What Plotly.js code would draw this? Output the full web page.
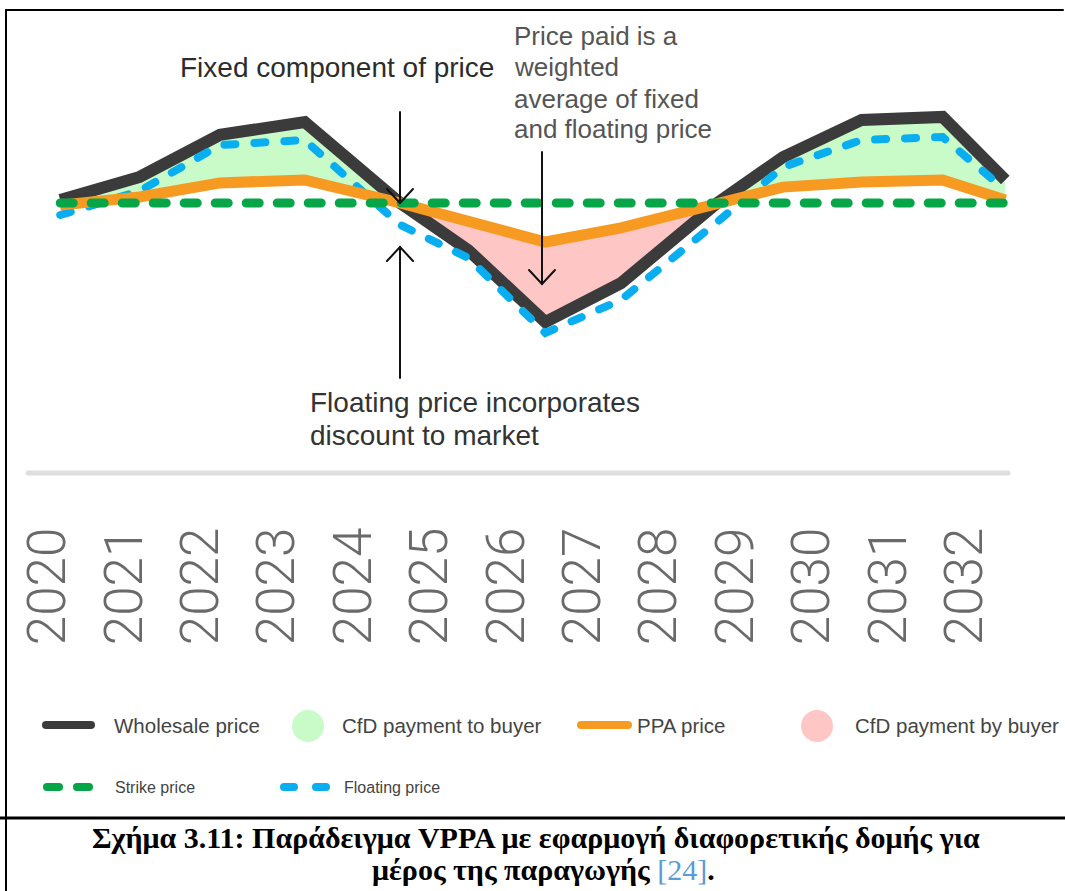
<!DOCTYPE html>
<html>
<head>
<meta charset="utf-8">
<script src="https://cdn.plot.ly/plotly-3.0.1.min.js"></script>
<style>
  html, body { margin: 0; padding: 0; background: #ffffff; }
  #chart { width: 1065px; height: 891px; }
  .tracestrike .js-line, .tracefloating .js-line { stroke-linecap: round !important; }
  .shapelayer path { stroke-linecap: round; }
</style>
</head>
<body>
<div id="chart"></div>
<script>
// ---------------- data ----------------
const yearLabels = ['2020','2021','2022','2023','2024','2025','2026','2027','2028','2029','2030','2031','2032'];
const yearTicks  = [2020, 2021, 2022, 2023, 2024, 2025, 2026, 2027, 2028, 2029, 2030, 2031, 2032];
const xPoints    = [2020.16, 2021.20, 2022.25, 2023.36, 2024.61, 2025.50, 2026.51, 2027.50, 2028.76, 2029.62, 2030.65, 2031.71, 2032.53];
const wholesalePrice = [51, 58.7, 72.7, 77, 50, 34.3, 10.3, 23.3, 50, 65.3, 77.7, 78.7, 57.7];
const floatingPrice  = [46, 54, 69.3, 71, 42.7, 31.7, 6.7, 17.7, 43.7, 62, 71, 72, 54.3];
const ppaPrice       = [49.3, 52, 56.7, 57.7, 50, 44.3, 37, 41.7, 50, 55.3, 57, 57.7, 51];
const strikePrice    = [50, 50, 50, 50, 50, 50, 50, 50, 50, 50, 50, 50, 50];

const legendLabels = ['Wholesale price', 'CfD payment to buyer', 'PPA price', 'CfD payment by buyer', 'Strike price', 'Floating price'];

// ---------------- styling ----------------
const C_BLACK = '#3b3b3b', C_ORANGE = '#f69a22', C_GREEN = '#05a548', C_BLUE = '#08aeef';
const C_GFILL = '#c8fbc8', C_PFILL = '#ffc6c6';

const W = 1065, H = 891, TOP = 53, BOTTOM = 516;
const PX = px => px / W;                         // page px -> paper x
const PY = py => (BOTTOM - py) / (BOTTOM - TOP); // page px -> paper y
const xr = [2020 - 48/76.4, 2020 + (W - 48)/76.4];
const yr = [100 - (BOTTOM - TOP)/3, 100];

// ---------------- fill polygons between wholesale and PPA ----------------
const traces = [];
(function buildFills(){
  let groups = [];
  let cur = null;
  for (let i = 0; i < xPoints.length - 1; i++) {
    const dm = (wholesalePrice[i] + wholesalePrice[i+1]) - (ppaPrice[i] + ppaPrice[i+1]);
    const sgn = dm >= 0 ? 1 : -1;
    if (!cur || cur.sgn !== sgn) { cur = {sgn, idx:[i]}; groups.push(cur); }
    cur.idx.push(i+1);
  }
  groups.forEach(g => {
    const xs = g.idx.map(i => xPoints[i]);
    const top = g.idx.map(i => wholesalePrice[i]);
    const bot = g.idx.map(i => ppaPrice[i]).reverse();
    traces.push({
      x: xs.concat(xs.slice().reverse()), y: top.concat(bot),
      mode: 'lines', fill: 'toself', line: {width: 0},
      fillcolor: g.sgn > 0 ? C_GFILL : C_PFILL, hoverinfo: 'skip'
    });
  });
})();

traces.push({ uid: 'wholesale', x: xPoints, y: wholesalePrice, mode: 'lines',
  line: {color: C_BLACK, width: 12}, name: legendLabels[0] });
traces.push({ uid: 'floating', x: xPoints, y: floatingPrice, mode: 'lines',
  line: {color: C_BLUE, width: 8, dash: '11px,19px'}, name: legendLabels[5] });
traces.push({ uid: 'ppa', x: xPoints, y: ppaPrice, mode: 'lines',
  line: {color: C_ORANGE, width: 11}, name: legendLabels[2] });
traces.push({ uid: 'strike', x: xPoints, y: strikePrice, mode: 'lines',
  line: {color: C_GREEN, width: 9, dash: '13px,18px'}, name: legendLabels[4] });

// ---------------- decorations ----------------
const shapes = [];
function seg(x0, y0, x1, y1, color, width) {
  shapes.push({type:'line', xref:'paper', yref:'paper', x0:PX(x0), y0:PY(y0), x1:PX(x1), y1:PY(y1),
    line:{color, width}});
}
function chevron(tx, ty, dir) { // dir = +1 pointing down, -1 pointing up
  const p = `M${PX(tx-13)},${PY(ty-14*dir)} L${PX(tx)},${PY(ty)} L${PX(tx+13)},${PY(ty-14*dir)}`;
  shapes.push({type:'path', xref:'paper', yref:'paper', path:p, line:{color:'#111', width:2}});
}
// frame
seg(6, 10, 6, 891, '#000', 2);
seg(6, 10, 1063, 10, '#000', 2);
seg(0, 818, 1065, 818, '#000', 3);
// grey base line
seg(28, 473, 1008, 473, '#dedede', 5);
// arrows
seg(400, 112, 400, 203, '#111', 2); chevron(400, 203, 1);
seg(400, 378, 400, 247, '#111', 2); chevron(400, 247, -1);
seg(542, 152, 542, 284, '#111', 2); chevron(542, 284, 1);
// legend swatches
seg(46, 725, 91, 725, C_BLACK, 8);
shapes.push({type:'circle', xref:'paper', yref:'paper', x0:PX(292), x1:PX(324), y0:PY(742), y1:PY(710), fillcolor:C_GFILL, line:{width:0}});
seg(581, 725, 628, 725, C_ORANGE, 8);
shapes.push({type:'circle', xref:'paper', yref:'paper', x0:PX(801), x1:PX(833), y0:PY(742), y1:PY(710), fillcolor:C_PFILL, line:{width:0}});
seg(47, 787, 59, 787, C_GREEN, 8); seg(77, 787, 89, 787, C_GREEN, 8);
seg(284, 787, 294, 787, C_BLUE, 8); seg(316, 787, 326, 787, C_BLUE, 8);

const annotations = [];
function txt(text, x, y, size, color, family, extra) {
  annotations.push(Object.assign({xref:'paper', yref:'paper', x:PX(x), y:PY(y), text, showarrow:false,
    xanchor:'left', yanchor:'middle', align:'left',
    font:{family: family || 'Liberation Sans, Arial, sans-serif', size, color}}, extra || {}));
}
txt('Fixed component of price', 178, 68, 28, '#2c2c2c');
txt('Price paid is a', 512, 36, 26, '#555');
txt('weighted', 512, 67, 26, '#555');
txt('average of fixed', 512, 99, 26, '#555');
txt('and floating price', 512, 129, 26, '#555');
txt('Floating price incorporates', 308, 402, 28, '#333');
txt('discount to market', 308, 435, 28, '#333');
// legend labels
txt(legendLabels[0], 112, 725, 20.5, '#444');
txt(legendLabels[1], 340, 725, 20.5, '#444');
txt(legendLabels[2], 635, 725, 20.5, '#444');
txt(legendLabels[3], 853, 725, 20.5, '#444');
txt(legendLabels[4], 113, 787, 16, '#444');
txt(legendLabels[5], 342, 787, 16, '#444');
// caption
txt('<b>Σχήμα 3.11: Παράδειγμα VPPA με εφαρμογή διαφορετικής δομής για</b>', 536, 838, 30, '#000',
    'Liberation Serif, Times New Roman, serif', {xanchor:'center', align:'center'});
txt('<b>μέρος της παραγωγής </b><span style="color:#5b9bd5">[24]</span><b>.</b>', 543, 869, 30, '#000',
    'Liberation Serif, Times New Roman, serif', {xanchor:'center', align:'center'});

const layout = {
  width: W, height: H,
  margin: {l:0, r:0, t:TOP, b:H-BOTTOM, pad:0},
  paper_bgcolor:'#ffffff', plot_bgcolor:'#ffffff',
  showlegend:false,
  xaxis: {range: xr, tickmode:'array', tickvals: yearTicks, ticktext: yearLabels, tickangle:-90,
          tickfont:{family:'Roboto, Liberation Sans, Arial, sans-serif', size:53, weight:300, color:'#6a6a6a'},
          showgrid:false, zeroline:false, showline:false, ticks:'', fixedrange:true},
  yaxis: {range: yr, visible:false, showgrid:false, zeroline:false, fixedrange:true},
  shapes, annotations
};

Plotly.newPlot('chart', traces, layout, {displayModeBar:false, staticPlot:true});
</script>
</body>
</html>
